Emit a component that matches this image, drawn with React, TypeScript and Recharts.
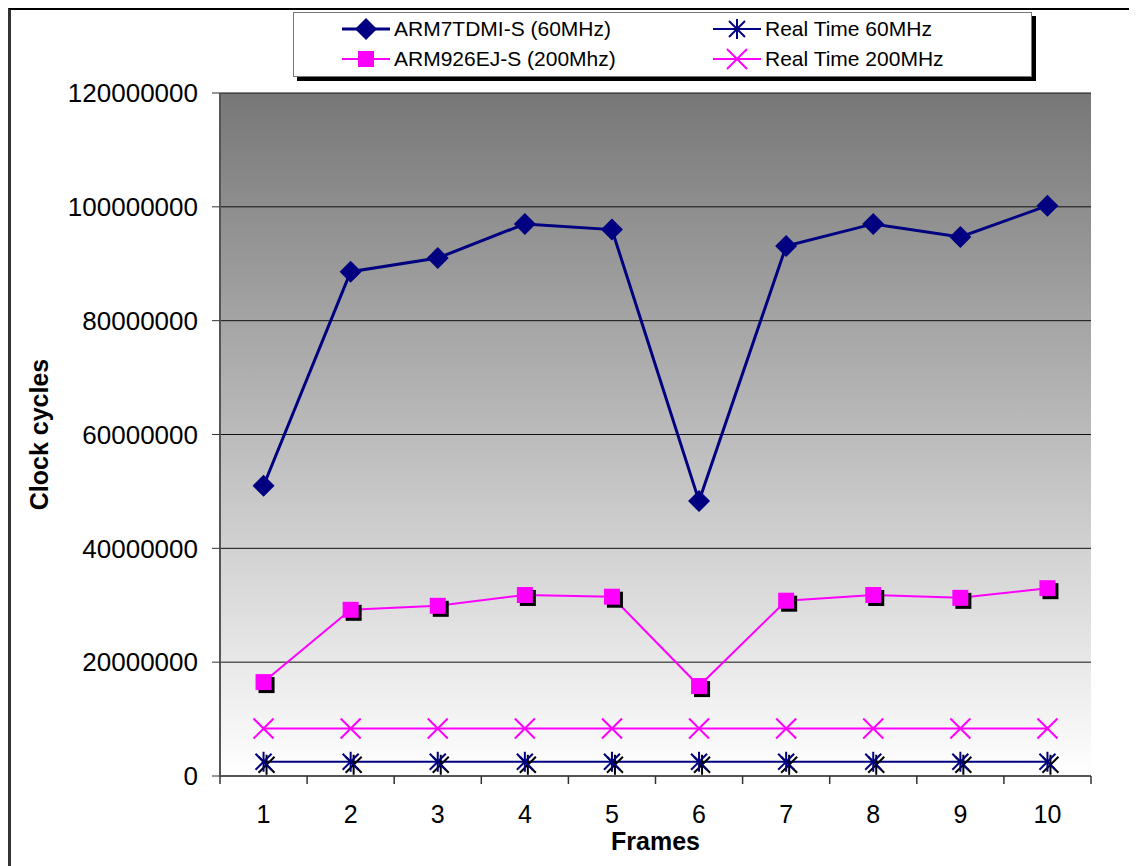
import { CartesianGrid, Label, Legend, Line, LineChart, XAxis, YAxis } from 'recharts';

const frames = ['1', '2', '3', '4', '5', '6', '7', '8', '9', '10'];
const arm7tdmi = [51000000, 88600000, 91000000, 97000000, 96000000, 48300000, 93100000, 97000000, 94700000, 100200000];
const arm926 = [16500000, 29200000, 29900000, 31800000, 31500000, 15800000, 30800000, 31800000, 31300000, 33000000];
const realTime60 = [2500000, 2500000, 2500000, 2500000, 2500000, 2500000, 2500000, 2500000, 2500000, 2500000];
const realTime200 = [8333333, 8333333, 8333333, 8333333, 8333333, 8333333, 8333333, 8333333, 8333333, 8333333];
const yTicks = [0, 20000000, 40000000, 60000000, 80000000, 100000000, 120000000];

const data = frames.map((f, i) => ({
  frame: f,
  arm7: arm7tdmi[i],
  arm926: arm926[i],
  rt60: realTime60[i],
  rt200: realTime200[i],
}));

const NAVY = '#000080';
const PINK = '#ff00ff';
const FONT = '"Liberation Sans", Arial, sans-serif';

function Diamond({ cx, cy }: any) {
  return <polygon points={`${cx},${cy - 11} ${cx + 11},${cy} ${cx},${cy + 11} ${cx - 11},${cy}`} fill={NAVY} />;
}

function Square({ cx, cy, shadow = true }: any) {
  return (
    <g>
      {shadow && <rect x={cx - 5} y={cy - 5} width={16} height={16} fill={'#000'} />}
      <rect x={cx - 8} y={cy - 8} width={16} height={16} fill={PINK} />
    </g>
  );
}

function Star({ cx, cy, color = NAVY }: any) {
  return (
    <g stroke={color} strokeWidth={2}>
      <line x1={cx} y1={cy - 10} x2={cx} y2={cy + 10} />
      <line x1={cx - 8} y1={cy - 8} x2={cx + 8} y2={cy + 8} />
      <line x1={cx - 8} y1={cy + 8} x2={cx + 8} y2={cy - 8} />
    </g>
  );
}

function StarShadow({ cx, cy }: any) {
  return (
    <g>
      <Star cx={cx + 3} cy={cy + 3} color={'#000'} />
      <Star cx={cx} cy={cy} />
    </g>
  );
}

function Cross({ cx, cy }: any) {
  return (
    <g stroke={PINK} strokeWidth={2}>
      <line x1={cx - 10} y1={cy - 10} x2={cx + 10} y2={cy + 10} />
      <line x1={cx - 10} y1={cy + 10} x2={cx + 10} y2={cy - 10} />
    </g>
  );
}

const legendItems = [
  { label: 'ARM7TDMI-S (60MHz)', color: NAVY, width: 3, marker: 'diamond', left: 48, top: 16 },
  { label: 'Real Time 60MHz', color: NAVY, width: 2, marker: 'star', left: 419, top: 16 },
  { label: 'ARM926EJ-S (200Mhz)', color: PINK, width: 2, marker: 'square', left: 48, top: 46 },
  { label: 'Real Time 200MHz', color: PINK, width: 2, marker: 'cross', left: 419, top: 46 },
];

function LegendBox() {
  return (
    <div
      style={{
        position: 'relative',
        width: 737,
        height: 63,
        border: '1px solid #777',
        background: '#fff',
        boxShadow: '4px 4px 0 #000',
        fontFamily: FONT,
        fontSize: 21,
        color: '#000',
      }}
    >
      {legendItems.map(it => (
        <div key={it.label} style={{ position: 'absolute', left: it.left, top: it.top - 12, height: 24, display: 'flex', alignItems: 'center' }}>
          <svg width={48} height={24} style={{ marginRight: 4 }}>
            <line x1={0} y1={12} x2={48} y2={12} stroke={it.color} strokeWidth={it.width} />
            {it.marker === 'diamond' && <Diamond cx={24} cy={12} />}
            {it.marker === 'square' && <Square cx={24} cy={12} shadow={false} />}
            {it.marker === 'star' && <Star cx={24} cy={12} />}
            {it.marker === 'cross' && <Cross cx={24} cy={12} />}
          </svg>
          <span style={{ whiteSpace: 'nowrap' }}>{it.label}</span>
        </div>
      ))}
    </div>
  );
}

function FrameTick({ x, y, payload, index, visibleTicksCount }: any) {
  const half = payload.offset || 43.5;
  const axisY = y - 29;
  const last = index === (visibleTicksCount ?? frames.length) - 1;
  return (
    <g>
      <line x1={x - half} y1={axisY} x2={x - half} y2={axisY + 8} stroke={'#333'} strokeWidth={1.5} />
      {last && <line x1={x + half} y1={axisY} x2={x + half} y2={axisY + 8} stroke={'#333'} strokeWidth={1.5} />}
      <text x={x} y={y} dy={'0.71em'} textAnchor={'middle'} fontSize={25} fontFamily={FONT} fill={'#000'}>
        {payload.value}
      </text>
    </g>
  );
}

function YTitle({ viewBox }: any) {
  const cx = viewBox.x + 28;
  const cy = viewBox.y + viewBox.height / 2;
  return (
    <text x={cx} y={cy} transform={`rotate(-90 ${cx} ${cy})`} textAnchor={'middle'} dominantBaseline={'central'} fontSize={25} fontWeight={'bold'} fontFamily={FONT} fill={'#000'}>
      Clock cycles
    </text>
  );
}

function XTitle({ viewBox }: any) {
  const cx = viewBox.x + viewBox.width / 2;
  const cy = viewBox.y + 65;
  return (
    <text x={cx} y={cy} textAnchor={'middle'} dominantBaseline={'central'} fontSize={25} fontWeight={'bold'} fontFamily={FONT} fill={'#000'}>
      Frames
    </text>
  );
}

export default function App() {
  return (
    <div
      style={{
        position: 'relative',
        width: 1129,
        height: 858,
        borderLeft: '3px solid #333',
        borderTop: '2px solid #000',
        boxSizing: 'border-box',
        background: '#fff',
      }}
    >
      <LineChart
        width={1126}
        height={856}
        data={data}
        margin={{ top: 83, right: 46, bottom: 0, left: 0 }}
        style={{ position: 'absolute', left: 0, top: 0 }}
      >
        <defs>
          <linearGradient id={'plotBg'} x1={'0'} y1={'0'} x2={'0'} y2={'1'}>
            <stop offset={'0%'} stopColor={'#777777'} />
            <stop offset={'100%'} stopColor={'#ffffff'} />
          </linearGradient>
        </defs>
        <CartesianGrid vertical={false} stroke={'#111'} strokeWidth={1} fill={'url(#plotBg)'} fillOpacity={1} />
        <XAxis
          dataKey={'frame'}
          scale={'band'}
          axisLine={{ stroke: '#555', strokeWidth: 2 }}
          tickLine={false}
          tickSize={8}
          tickMargin={21}
          height={90}
          interval={0}
          tick={<FrameTick />}
        >
          <Label content={<XTitle />} />
        </XAxis>
        <YAxis
          width={209}
          domain={[0, 120000000]}
          ticks={yTicks}
          interval={0}
          axisLine={{ stroke: '#555', strokeWidth: 2 }}
          tickLine={{ stroke: '#333' }}
          tickSize={8}
          tickMargin={14}
          tickFormatter={(v: number) => String(v)}
          tick={{ fontSize: 26, fontFamily: FONT, fill: '#000' }}
        >
          <Label content={<YTitle />} />
        </YAxis>
        <Legend
          layout={'horizontal'}
          verticalAlign={'middle'}
          align={'center'}
          content={<LegendBox />}
          wrapperStyle={{ position: 'absolute', left: 282, top: 2, width: 739, height: 65 }}
        />
        <Line
          dataKey={'rt60'}
          name={'Real Time 60MHz'}
          stroke={NAVY}
          strokeWidth={2}
          isAnimationActive={false}
          dot={(p: any) => <StarShadow key={`s${p.index}`} cx={p.cx} cy={p.cy} />}
        />
        <Line
          dataKey={'rt200'}
          name={'Real Time 200MHz'}
          stroke={PINK}
          strokeWidth={2}
          isAnimationActive={false}
          dot={(p: any) => <Cross key={`c${p.index}`} cx={p.cx} cy={p.cy} />}
        />
        <Line
          dataKey={'arm926'}
          name={'ARM926EJ-S (200Mhz)'}
          stroke={PINK}
          strokeWidth={2}
          isAnimationActive={false}
          dot={(p: any) => <Square key={`q${p.index}`} cx={p.cx} cy={p.cy} />}
        />
        <Line
          dataKey={'arm7'}
          name={'ARM7TDMI-S (60MHz)'}
          stroke={NAVY}
          strokeWidth={3}
          isAnimationActive={false}
          dot={(p: any) => <Diamond key={`d${p.index}`} cx={p.cx} cy={p.cy} />}
        />
      </LineChart>
    </div>
  );
}
